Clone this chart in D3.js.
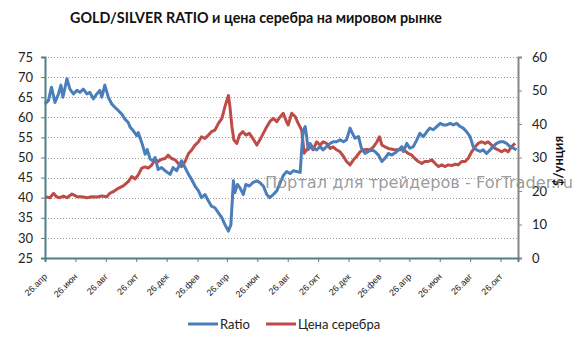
<!DOCTYPE html>
<html><head><meta charset="utf-8">
<script src="https://cdn.jsdelivr.net/npm/d3@7"></script>
<style>body{margin:0;background:#fff}</style>
</head><body><svg id="c" width="580" height="343"></svg>
<script>
const titleText = "GOLD/SILVER RATIO и цена серебра на мировом рынке";
const startDate = "2010-04-26";
const endDate = "2012-11-30";
const tickDates = ["2010-04-26","2010-06-26","2010-08-26","2010-10-26","2010-12-26","2011-02-26","2011-04-26","2011-06-26","2011-08-26","2011-10-26","2011-12-26","2012-02-26","2012-04-26","2012-06-26","2012-08-26","2012-10-26"];
const tickLabels = ["26.апр","26.июн","26.авг","26.окт","26.дек","26.фев","26.апр","26.июн","26.авг","26.окт","26.дек","26.фев","26.апр","26.июн","26.авг","26.окт"];
const leftTicks = [25,30,35,40,45,50,55,60,65,70,75];
const rightTicks = [0,10,20,30,40,50,60];
const seriesNames = ["Ratio","Цена серебра"];

// days since startDate
const ratioDays = [0,7,13,20,27,32,36,44,50,57,64,70,77,84,90,97,104,110,114,120,127,134,140,147,154,160,167,171,177,184,187,194,201,205,211,216,221,227,234,241,251,257,264,274,281,288,294,301,308,314,321,328,334,341,348,355,361,368,373,378,381,386,391,398,403,410,417,425,431,438,445,451,458,465,472,478,485,492,498,505,512,515,518,522,525,528,532,538,545,552,558,565,572,578,585,592,599,605,612,617,622,629,635,642,649,656,662,669,676,682,689,696,706,716,719,726,732,739,746,752,759,766,772,779,786,793,799,806,813,819,826,833,839,846,853,859,866,873,879,886,893,899,906,913,920,926,933,940,946];
const ratioValues = [63.3,64.2,67.5,63.7,65.8,68,65,69.6,67,65.8,66.7,66.2,67,65.8,66.2,64.6,65.8,66.7,65,68,65,63.3,62.5,61.7,60.8,59.6,58.7,57.5,56.7,55.4,56.2,53.75,50.8,52,49.6,49.2,50,47,47.5,46.7,45.8,47.5,46.7,49.2,47.5,45.8,44.6,42.9,41.7,40,40.8,39.2,37.9,37.5,36.25,35,33.3,31.7,33.3,44.2,41.25,43.3,42.5,40.8,43.3,42.9,43.75,44.2,43.75,42.9,40.8,40,40.8,41.7,43.75,45.5,46.5,46,46.7,46.5,46.3,52,56.5,57.7,55.2,51.9,53.5,52.3,51.9,52.7,51.9,52.7,53.5,53.9,53.9,54.4,53.9,54.4,57.3,56,54.8,55.2,52.3,51,51.5,51.9,51.5,50.6,49,49.8,51,50.6,51.5,52.7,51.5,53.5,52.3,52.7,54.4,56,55.2,56.4,57.3,56.9,57.7,58.5,58.1,58.1,58.5,58.1,58.5,57.7,57.3,56.4,55.2,52.7,51.9,51.5,51.9,51,51.9,52.7,53.5,53.9,53.9,53.5,52.7,52.3,51.9];

const silverDays = [0,10,17,23,30,37,44,54,64,74,84,94,104,114,124,130,137,147,157,167,174,181,187,194,201,207,214,221,227,234,241,247,254,261,267,274,281,288,294,301,308,314,321,328,334,341,348,355,361,368,371,375,379,385,390,397,403,410,417,425,431,438,445,451,458,465,472,478,485,488,495,502,508,515,520,525,532,538,545,552,558,565,572,578,585,592,599,605,612,619,625,632,639,645,652,659,666,671,676,682,689,699,709,719,729,736,742,749,756,762,769,776,783,789,796,803,809,816,823,829,836,843,849,856,863,869,876,883,889,896,903,909,916,923,929,936,943];
const silverValues = [18.3,18,19.3,18.3,18,18.5,18,19.1,18.3,18.3,18,18.3,18.2,18.5,18.3,19.3,19.8,20.8,21.5,22.8,24.3,23.6,24.8,26.8,27.2,26.8,27.7,29.5,28.8,29.5,29.7,30.7,29.7,29.3,28.3,27.3,28.8,31.2,32.2,33.7,34.7,36.2,35.7,36.7,37.7,38.2,40.2,41.7,45.2,48.5,45.2,39.2,35.2,34.2,36.7,37.7,36.7,37.2,35.7,33.7,35.2,37.2,39.2,40.7,41.7,40.7,42.2,43.2,40.5,39.7,43.2,42.2,40.2,38.2,31.3,32.3,33.2,32.3,34.7,33.7,34.7,34.2,32.7,33.2,32.3,31.7,30.3,28.8,27.8,29.3,30.3,31.7,32.3,32.4,32.3,33.2,34.7,36.2,33.7,33.2,32.7,32.4,32.3,32.3,31.2,30.7,29.7,28.8,28.2,28.8,28.8,29.3,28.2,27.3,27.8,27.3,27.8,27.6,28,27.8,28.8,28.8,29.7,31.7,33.2,34.2,34.7,34.2,34.7,33.7,32.7,32.3,31.7,32.3,31.7,33.2,34.2];

const parse = d3.timeParse("%Y-%m-%d");
const start = parse(startDate);
const toDate = d => d3.timeDay.offset(start, d);
const ratioData = ratioDays.map((d,i)=>({date:toDate(d), v:ratioValues[i]}));
const silverData = silverDays.map((d,i)=>({date:toDate(d), v:silverValues[i]}));

const svg = d3.select("#c");
const L = 45, R = 518, T = 57, B = 258;
const x = d3.scaleTime().domain([start, parse(endDate)]).range([L, R]);
const yL = d3.scaleLinear().domain([25,75]).range([B, T]);
const yR = d3.scaleLinear().domain([0,60]).range([B, T]);

// title
svg.append("text").attr("x", 256).attr("y", 23).attr("text-anchor","middle")
  .attr("font-family","Lato, 'Open Sans', sans-serif").attr("font-weight","bold").attr("font-size",15)
  .attr("textLength",372).attr("lengthAdjust","spacingAndGlyphs").attr("fill","#111").text(titleText);

// gridlines
svg.append("g").selectAll("line").data(leftTicks.filter(t=>t>25)).join("line")
  .attr("x1", L).attr("x2", R).attr("y1", d=>Math.round(yL(d))+0.5).attr("y2", d=>Math.round(yL(d))+0.5)
  .attr("stroke","#9a9a9a").attr("stroke-width",1).attr("stroke-dasharray","1,2");

// lines
const lineL = d3.line().x(d=>x(d.date)).y(d=>yL(d.v));
const lineR = d3.line().x(d=>x(d.date)).y(d=>yR(d.v));
svg.append("path").datum(silverData).attr("d", lineR).attr("fill","none")
  .attr("stroke","#be4b48").attr("stroke-width",3).attr("stroke-linejoin","round");
svg.append("path").datum(ratioData).attr("d", lineL).attr("fill","none")
  .attr("stroke","#4a7ebb").attr("stroke-width",3).attr("stroke-linejoin","round");

// axes
const fontNum = "Lato, 'Open Sans', sans-serif";
const gL = svg.append("g").attr("transform",`translate(${L},0)`)
  .call(d3.axisLeft(yL).tickValues(leftTicks).tickSize(4).tickPadding(8));
gL.select(".domain").attr("stroke","#4f8086").attr("stroke-width",2);
gL.selectAll(".tick line").attr("stroke","#4f8086");
gL.selectAll("text").attr("font-family",fontNum).attr("font-size",13).attr("fill","#222");

const gR = svg.append("g").attr("transform",`translate(${R},0)`)
  .call(d3.axisRight(yR).tickValues(rightTicks).tickSize(4).tickPadding(10));
gR.select(".domain").attr("stroke","#868686").attr("stroke-width",2);
gR.selectAll(".tick line").attr("stroke","#868686");
gR.selectAll("text").attr("font-family",fontNum).attr("font-size",13).attr("fill","#222");

const gB = svg.append("g").attr("transform",`translate(0,${B})`)
  .call(d3.axisBottom(x).tickValues(tickDates.map(parse)).tickFormat((d,i)=>tickLabels[i]).tickSize(4));
gB.select(".domain").attr("stroke","#4f8086").attr("stroke-width",2);
gB.selectAll(".tick line").attr("stroke","#4f8086");
gB.selectAll("text").attr("font-family","'Liberation Sans', Arial, sans-serif").attr("font-size",9).attr("fill","#222")
  .attr("text-anchor","end").attr("x",0).attr("y",0).attr("dy","0.35em")
  .attr("transform","translate(0,17) rotate(-45)");

// right axis title
svg.append("text").attr("transform","translate(563,161) rotate(-90)").attr("text-anchor","middle")
  .attr("font-family",fontNum).attr("font-weight","bold").attr("font-size",13).attr("fill","#111").text("$/унция");

// legend
const lg = svg.append("g");
const legendItems = [{name:seriesNames[0], color:"#4a7ebb", x1:188}, {name:seriesNames[1], color:"#be4b48", x1:266}];
legendItems.forEach(it=>{
  lg.append("line").attr("x1",it.x1).attr("x2",it.x1+30).attr("y1",324).attr("y2",324)
    .attr("stroke",it.color).attr("stroke-width",3);
  lg.append("text").attr("x",it.x1+32).attr("y",328.5).attr("font-family",fontNum).attr("font-size",13)
    .attr("fill","#222").text(it.name);
});

// watermark
svg.append("text").attr("x",265).attr("y",188).attr("font-family","'DejaVu Sans', Verdana, sans-serif")
  .attr("font-size",15).attr("fill","#8a8a8a").attr("fill-opacity",0.85)
  .attr("textLength",308).attr("lengthAdjust","spacingAndGlyphs").text("Портал для трейдеров - ForTrader.ru");
</script></body></html>
